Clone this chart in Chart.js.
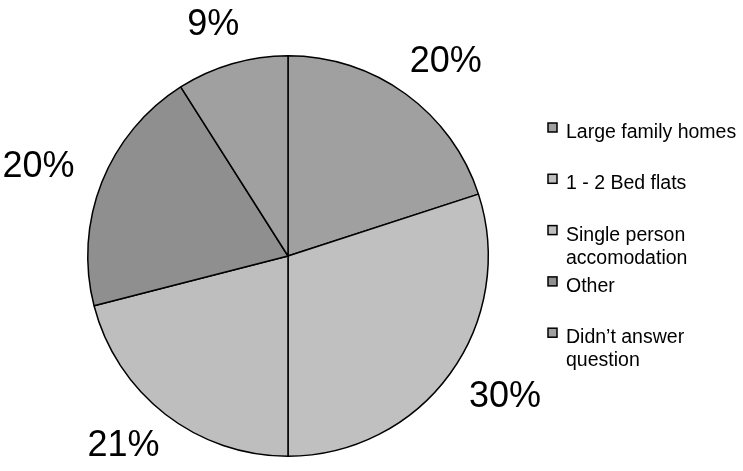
<!DOCTYPE html>
<html>
<head>
<meta charset="utf-8">
<script src="https://cdn.jsdelivr.net/npm/chart.js@4/dist/chart.umd.min.js"></script>
<style>
    html, body { margin: 0; padding: 0; background: #fff; }
    #wrap { width: 743px; height: 471px; }
</style>
</head>
<body>
<div id="wrap"><canvas id="pieGraph" width="743" height="471"></canvas></div>
<script>
//Dados
const categorias = ['Large family homes', '1 - 2 Bed flats', 'Single person accomodation', 'Other', 'Didn\u2019t answer question'];
const valores = [20, 30, 21, 20, 9];
const rotulos = ['20%', '30%', '21%', '20%', '9%'];
const cores = ['#a0a0a0', '#c0c0c0', '#bebebe', '#8f8f8f', '#a0a0a0'];

const fonte = '"Liberation Sans", Arial, sans-serif';

//Percentuais fora da pizza (afastados mais na horizontal, como no Excel)
const rotulosPlugin = {
    id: 'rotulos',
    afterDatasetsDraw(chart) {
        const ctx = chart.ctx;
        const meta = chart.getDatasetMeta(0);
        ctx.save();
        ctx.fillStyle = '#000';
        ctx.font = '36px ' + fonte;
        ctx.textAlign = 'center';
        ctx.textBaseline = 'middle';
        meta.data.forEach((arc, i) => {
            const p = arc.getProps(['x', 'y', 'startAngle', 'endAngle', 'outerRadius'], true);
            const meio = (p.startAngle + p.endAngle) / 2;
            const dx = p.outerRadius + 68;
            const dy = p.outerRadius + 40;
            ctx.fillText(rotulos[i], p.x + Math.cos(meio) * dx, p.y + Math.sin(meio) * dy);
        });
        ctx.restore();
    }
};

//Legenda do lado direito
const legendaPlugin = {
    id: 'legenda',
    afterDraw(chart) {
        const ctx = chart.ctx;
        const x = 548, topo = 123, passo = 51.3, caixa = 9;
        ctx.save();
        ctx.font = '19.5px ' + fonte;
        ctx.textBaseline = 'alphabetic';
        categorias.forEach((nome, i) => {
            const y = topo + i * passo;
            ctx.fillStyle = cores[i];
            ctx.fillRect(x, y, caixa, caixa);
            ctx.strokeStyle = '#000';
            ctx.lineWidth = 1.5;
            ctx.strokeRect(x, y, caixa, caixa);

            //quebra de linha por palavra
            const linhas = [];
            let atual = '';
            nome.split(' ').forEach(p => {
                const teste = atual ? atual + ' ' + p : p;
                if (atual && ctx.measureText(teste).width > 176) {
                    linhas.push(atual);
                    atual = p;
                } else {
                    atual = teste;
                }
            });
            linhas.push(atual);

            ctx.fillStyle = '#000';
            linhas.forEach((l, j) => ctx.fillText(l, x + 18, y + 15 + j * 23));
        });
        ctx.restore();
    }
};

//Gráfico de pizza
const pie_ctx = document.getElementById('pieGraph').getContext('2d');

const pieGraph = new Chart(pie_ctx, {
    type: 'pie',
    data: {
        labels: categorias,
        datasets: [{
            data: valores,
            backgroundColor: cores,
            borderColor: '#000',
            borderWidth: 1.5
        }]
    },
    options: {
        responsive: false,
        animation: false,
        events: [],
        layout: {
            padding: { left: 87, right: 254, top: 55, bottom: 14 }
        },
        plugins: {
            legend: { display: false },
            tooltip: { enabled: false }
        }
    },
    plugins: [rotulosPlugin, legendaPlugin]
});
</script>
</body>
</html>
